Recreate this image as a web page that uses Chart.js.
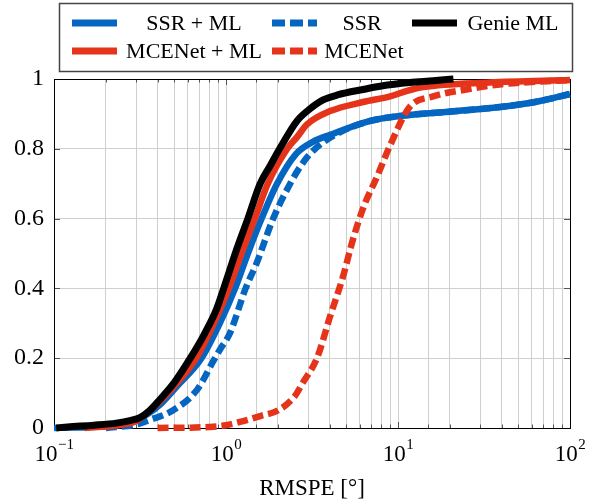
<!DOCTYPE html>
<html>
<head>
<meta charset="utf-8">
<script src="https://cdn.jsdelivr.net/npm/chart.js@4"></script>
<style>
  html, body { margin: 0; padding: 0; background: #fff; }
  canvas { display: block; }
</style>
</head>
<body>
<canvas id="cdf" width="589" height="501"></canvas>
<script>
// values (RMSPE in degrees, CDF value)
const genieX = [0.103, 0.12, 0.17, 0.23, 0.28, 0.316, 0.36, 0.41, 0.5, 0.62, 0.75, 0.88, 0.97, 1.15, 1.34, 1.58, 1.8, 2.05, 2.59, 3.0, 3.67, 4.5, 6.27, 8, 11.7, 16, 21]
const genieY = [0, 0.003, 0.008, 0.014, 0.022, 0.03, 0.05, 0.08, 0.13, 0.2, 0.27, 0.34, 0.4, 0.51, 0.6, 0.7, 0.75, 0.8, 0.88, 0.91, 0.94, 0.955, 0.97, 0.98, 0.99, 0.995, 1.0]

const mceMlX = [0.15, 0.25, 0.3, 0.36, 0.42, 0.5, 0.67, 0.85, 1.04, 1.23, 1.47, 1.75, 2.27, 2.6, 2.96, 4.03, 6.27, 9, 11.3, 14, 34, 100]
const mceMlY = [0, 0.01, 0.02, 0.05, 0.08, 0.12, 0.2, 0.3, 0.4, 0.5, 0.6, 0.7, 0.8, 0.835, 0.87, 0.908, 0.934, 0.95, 0.966, 0.977, 0.99, 0.997]

const ssrMlX = [0.1, 0.2, 0.28, 0.35, 0.42, 0.52, 0.72, 0.92, 1.13, 1.34, 1.61, 1.98, 2.55, 3.2, 4.03, 6.9, 10.7, 22, 43, 67, 100]
const ssrMlY = [0, 0.005, 0.015, 0.04, 0.07, 0.12, 0.2, 0.3, 0.4, 0.5, 0.6, 0.7, 0.785, 0.82, 0.84, 0.88, 0.895, 0.908, 0.922, 0.937, 0.957]

const ssrX = [0.2, 0.3, 0.36, 0.49, 0.68, 0.84, 0.92, 1.05, 1.3, 1.5, 1.88, 2.36, 2.8, 3.3, 4.5, 6.9, 10.7, 22, 43, 67, 100]
const ssrY = [0, 0.01, 0.023, 0.05, 0.11, 0.19, 0.224, 0.27, 0.4, 0.47, 0.6, 0.7, 0.76, 0.8, 0.845, 0.88, 0.895, 0.908, 0.922, 0.937, 0.957]

const mceX = [0.4, 0.8, 1.0, 1.26, 1.6, 2.0, 2.5, 2.8, 3.38, 4.03, 4.79, 5.47, 6.27, 7.55, 9.0, 11.7, 16, 25, 40, 100]
const mceY = [0, 0.003, 0.008, 0.02, 0.035, 0.05, 0.09, 0.13, 0.2, 0.32, 0.434, 0.54, 0.63, 0.72, 0.81, 0.92, 0.95, 0.97, 0.985, 0.997]

const xTickValues = [0.1, 1, 10, 100]
const xTickExp = ['\u22121', '0', '1', '2']
const xTitle = 'RMSPE [\u00b0]'

const BLUE = '#0566c2'
const RED = '#e5341a'
const serif = '"Liberation Serif", "DejaVu Serif", "Times New Roman", serif'

function pts(xs, ys) {
    return xs.map((x, i) => ({ x: x, y: ys[i] }))
}

const series = [
    { label: 'SSR + ML', data: pts(ssrMlX, ssrMlY), color: BLUE, dash: [], width: 6.5, order: 5 },
    { label: 'SSR', data: pts(ssrX, ssrY), color: BLUE, dash: [11, 5], width: 6.5, order: 4 },
    { label: 'Genie ML', data: pts(genieX, genieY), color: '#000000', dash: [], width: 7, order: 1 },
    { label: 'MCENet + ML', data: pts(mceMlX, mceMlY), color: RED, dash: [], width: 6.5, order: 3 },
    { label: 'MCENet', data: pts(mceX, mceY), color: RED, dash: [11, 5], width: 6.5, order: 2 }
]

// legend slots: [sample x0, sample x1, text center, row y]
const legendSlots = [
    [72, 117, 194, 23],
    [272, 317, 362, 23],
    [412, 457, 513, 23],
    [72, 117, 194, 51],
    [272, 317, 364, 51]
]

const framePlugin = {
    id: 'frame',
    beforeDatasetsDraw(chart) {
        const ctx = chart.ctx
        const a = chart.chartArea
        const xs = chart.scales.x
        const ys = chart.scales.y
        ctx.save()
        ctx.strokeStyle = '#555'
        ctx.lineWidth = 1
        // tick marks inside the frame
        xs.ticks.forEach(t => {
            const px = Math.round(xs.getPixelForValue(t.value)) + 0.5
            const major = xTickValues.includes(t.value)
            const len = major ? 6 : 3.5
            ctx.beginPath()
            ctx.moveTo(px, a.bottom); ctx.lineTo(px, a.bottom - len)
            ctx.moveTo(px, a.top); ctx.lineTo(px, a.top + len)
            ctx.stroke()
        })
        ys.ticks.forEach(t => {
            const py = Math.round(ys.getPixelForValue(t.value)) + 0.5
            ctx.beginPath()
            ctx.moveTo(a.left, py); ctx.lineTo(a.left + 6, py)
            ctx.moveTo(a.right, py); ctx.lineTo(a.right - 6, py)
            ctx.stroke()
        })
        ctx.strokeStyle = '#000'
        ctx.strokeRect(Math.round(a.left) + 0.5, Math.round(a.top) + 0.5,
            Math.round(a.right - a.left), Math.round(a.bottom - a.top))
        ctx.restore()
    },
    afterDraw(chart) {
        const ctx = chart.ctx
        const xs = chart.scales.x
        ctx.save()
        ctx.fillStyle = '#000'
        ctx.textBaseline = 'alphabetic'
        // x tick labels 10^n
        xTickValues.forEach((v, i) => {
            ctx.font = '23px ' + serif
            const wBase = ctx.measureText('10').width
            ctx.font = '15px ' + serif
            const wExp = ctx.measureText(xTickExp[i]).width
            let left = xs.getPixelForValue(v) - (wBase + wExp) / 2
            ctx.font = '23px ' + serif
            ctx.textAlign = 'left'
            ctx.fillText('10', left, 461)
            ctx.font = '15px ' + serif
            ctx.fillText(xTickExp[i], left + wBase + 0.5, 449)
        })
        // x title
        ctx.font = '23px ' + serif
        ctx.textAlign = 'center'
        ctx.fillText(xTitle, (chart.chartArea.left + chart.chartArea.right) / 2, 495)

        // legend
        ctx.strokeStyle = '#444'
        ctx.lineWidth = 1.5
        ctx.strokeRect(59.5, 3.5, 513, 68)
        ctx.font = '22px ' + serif
        ctx.textBaseline = 'middle'
        series.forEach((s, i) => {
            const slot = legendSlots[i]
            ctx.save()
            ctx.strokeStyle = s.color
            ctx.lineWidth = 7
            ctx.setLineDash(s.dash.length ? [13, 5] : [])
            ctx.beginPath()
            ctx.moveTo(slot[0], slot[3]); ctx.lineTo(slot[1], slot[3])
            ctx.stroke()
            ctx.restore()
            ctx.fillText(s.label, slot[2], slot[3] + 1)
        })
        ctx.restore()
    }
}

new Chart(document.getElementById('cdf').getContext('2d'), {
    type: 'line',
    data: {
        datasets: series.map(s => ({
            label: s.label,
            data: s.data,
            borderColor: s.color,
            backgroundColor: s.color,
            borderWidth: s.width,
            borderDash: s.dash,
            borderCapStyle: 'butt',
            borderJoinStyle: 'round',
            pointRadius: 0,
            cubicInterpolationMode: 'monotone',
            fill: false,
            clip: 6,
            order: s.order
        }))
    },
    options: {
        responsive: false,
        animation: false,
        devicePixelRatio: 1,
        layout: { padding: { top: 79, right: 19, left: 0, bottom: 0 } },
        plugins: { legend: { display: false }, tooltip: { enabled: false } },
        scales: {
            x: {
                type: 'logarithmic',
                min: 0.1,
                max: 100,
                afterFit: s => { s.height = 73 },
                ticks: { display: false },
                grid: { color: '#cfcfcf', lineWidth: 1, drawTicks: false },
                border: { display: true, color: '#000', width: 1 }
            },
            y: {
                min: 0,
                max: 1,
                afterFit: s => { s.width = 54 },
                ticks: {
                    stepSize: 0.2,
                    padding: 10,
                    color: '#000',
                    font: { family: serif, size: 24 },
                    callback: v => String(parseFloat(v.toFixed(1)))
                },
                grid: { color: '#cfcfcf', lineWidth: 1, drawTicks: false },
                border: { display: true, color: '#000', width: 1 }
            }
        }
    },
    plugins: [framePlugin]
})
</script>
</body>
</html>
